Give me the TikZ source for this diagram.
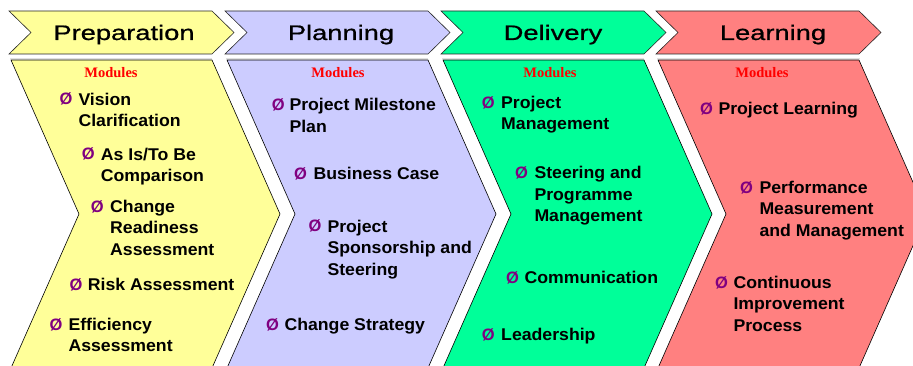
\documentclass[tikz,border=0pt]{standalone}
\usepackage{fontspec}
\setmainfont{Liberation Sans}
\newfontfamily\headfont[FakeStretch=1.3, FakeBold=0.8]{Liberation Sans}
\newfontfamily\itemfont[FakeStretch=1.04]{Liberation Sans}
\newfontfamily\modfont{Liberation Serif}

\definecolor{prepfill}{HTML}{FFFF99}
\definecolor{planfill}{HTML}{CCCCFF}
\definecolor{delifill}{HTML}{00FF99}
\definecolor{learnfill}{HTML}{FF8080}
\definecolor{bulletpurple}{HTML}{800080}

% chevron: #1 left x, #2 width, #3 depth, #4 top y, #5 bottom y, #6 style
\newcommand{\chevronpath}[6]{%
  \path[#6] (#1,#4) -- ++(#2,0) -- ({#1+#2+#3},{(#4+#5)/2}) -- ({#1+#2},#5)
    -- (#1,#5) -- ({#1+#3},{(#4+#5)/2}) -- cycle;}

\tikzset{
  headshape/.style={draw=black!85, line width=0.6pt},
  phaseshape/.style={draw=black, line width=0.6pt},
  shadowline/.style={draw=black!12, line width=1.6pt},
  headtext/.style={font=\headfont\fontsize{21}{25}\selectfont, anchor=base, inner sep=0pt},
  modtitle/.style={font=\modfont\bfseries\fontsize{14.5}{17}\selectfont, text=red, anchor=base, inner sep=0pt},
  bullet/.style={font=\bfseries\fontsize{16.5}{21.5}\selectfont, text=bulletpurple, anchor=base west, inner sep=0pt},
  % multi-line item texts are placed by the baseline of their last line
  itemtext/.style={font=\itemfont\bfseries\fontsize{17}{21.5}\selectfont, align=left, anchor=base west, inner sep=0pt},
}

\begin{document}
\begin{tikzpicture}[x=1pt, y=-1pt]
\useasboundingbox (0,0) rectangle (913,366);
\clip (0,0) rectangle (913,366);

% header arrows
\chevronpath{9}{203}{22}{11}{54}{headshape, fill=prepfill}
\chevronpath{225}{203}{22}{11}{54}{headshape, fill=planfill}
\chevronpath{441}{203}{22}{11}{54}{headshape, fill=delifill}
\chevronpath{656}{203}{22}{11}{54}{headshape, fill=learnfill}

% faint rules under the headers
\draw[shadowline] (10,58.5) -- (212,58.5);
\draw[shadowline] (226,58.5) -- (428,58.5);
\draw[shadowline] (442,58.5) -- (644,58.5);
\draw[shadowline] (657,58.5) -- (860,58.5);

\node[headtext] (hprep)  at (124,40) {Preparation};
\node[headtext] (hplan)  at (341,40) {Planning};
\node[headtext] (hdeli)  at (553,40) {Delivery};
\node[headtext] (hlearn) at (773,40) {Learning};

% phase bodies
\chevronpath{11}{201}{68}{60}{368}{phaseshape, fill=prepfill}
\chevronpath{227}{201}{68}{60}{368}{phaseshape, fill=planfill}
\chevronpath{443}{201}{68}{60}{368}{phaseshape, fill=delifill}
\chevronpath{658}{201}{68}{60}{368}{phaseshape, fill=learnfill}

\node[modtitle] (mprep)  at (111,77.7) {Modules};
\node[modtitle] (mplan)  at (338,77.7) {Modules};
\node[modtitle] (mdeli)  at (550,77.7) {Modules};
\node[modtitle] (mlearn) at (762,77.7) {Modules};

% Preparation modules
\node[bullet] (bp1) at (59.3,105) {Ø};
\node[itemtext] (tp1) at (78.3,126.7) {Vision\\Clarification};
\node[bullet] (bp2) at (81.7,160) {Ø};
\node[itemtext] (tp2) at (100.7,181.7) {As Is/To Be\\Comparison};
\node[bullet] (bp3) at (90.7,212.7) {Ø};
\node[itemtext] (tp3) at (110,255.3) {Change\\Readiness\\Assessment};
\node[bullet] (bp4) at (69.3,290) {Ø};
\node[itemtext] (tp4) at (87.7,290) {Risk Assessment};
\node[bullet] (bp5) at (49.3,330) {Ø};
\node[itemtext] (tp5) at (68.3,351.7) {Efficiency\\Assessment};

% Planning modules
\node[bullet] (bl1) at (271.7,111) {Ø};
\node[itemtext] (tl1) at (289.3,132.2) {Project Milestone\\Plan};
\node[bullet] (bl2) at (294,180) {Ø};
\node[itemtext] (tl2) at (313.3,180) {Business Case};
\node[bullet] (bl3) at (308.3,231.7) {Ø};
\node[itemtext] (tl3) at (327.3,275) {Project\\Sponsorship and\\Steering};
\node[bullet] (bl4) at (266,330) {Ø};
\node[itemtext] (tl4) at (284.3,330) {Change Strategy};

% Delivery modules
\node[bullet] (bd1) at (481.7,108.3) {Ø};
\node[itemtext] (td1) at (501,130) {Project\\Management};
\node[bullet] (bd2) at (515,179) {Ø};
\node[itemtext] (td2) at (534.3,221.7) {Steering and\\Programme\\Management};
\node[bullet] (bd3) at (506,283.3) {Ø};
\node[itemtext] (td3) at (524.3,283.3) {Communication};
\node[bullet] (bd4) at (481.7,340) {Ø};
\node[itemtext] (td4) at (501,340) {Leadership};

% Learning modules
\node[bullet] (bn1) at (700,115) {Ø};
\node[itemtext] (tn1) at (718.3,115) {Project Learning};
\node[bullet] (bn2) at (740,193.3) {Ø};
\node[itemtext] (tn2) at (759.3,236.3) {Performance\\Measurement\\and Management};
\node[bullet] (bn3) at (715,288.3) {Ø};
\node[itemtext] (tn3) at (733.3,331.3) {Continuous\\Improvement\\Process};
\end{tikzpicture}
\end{document}
